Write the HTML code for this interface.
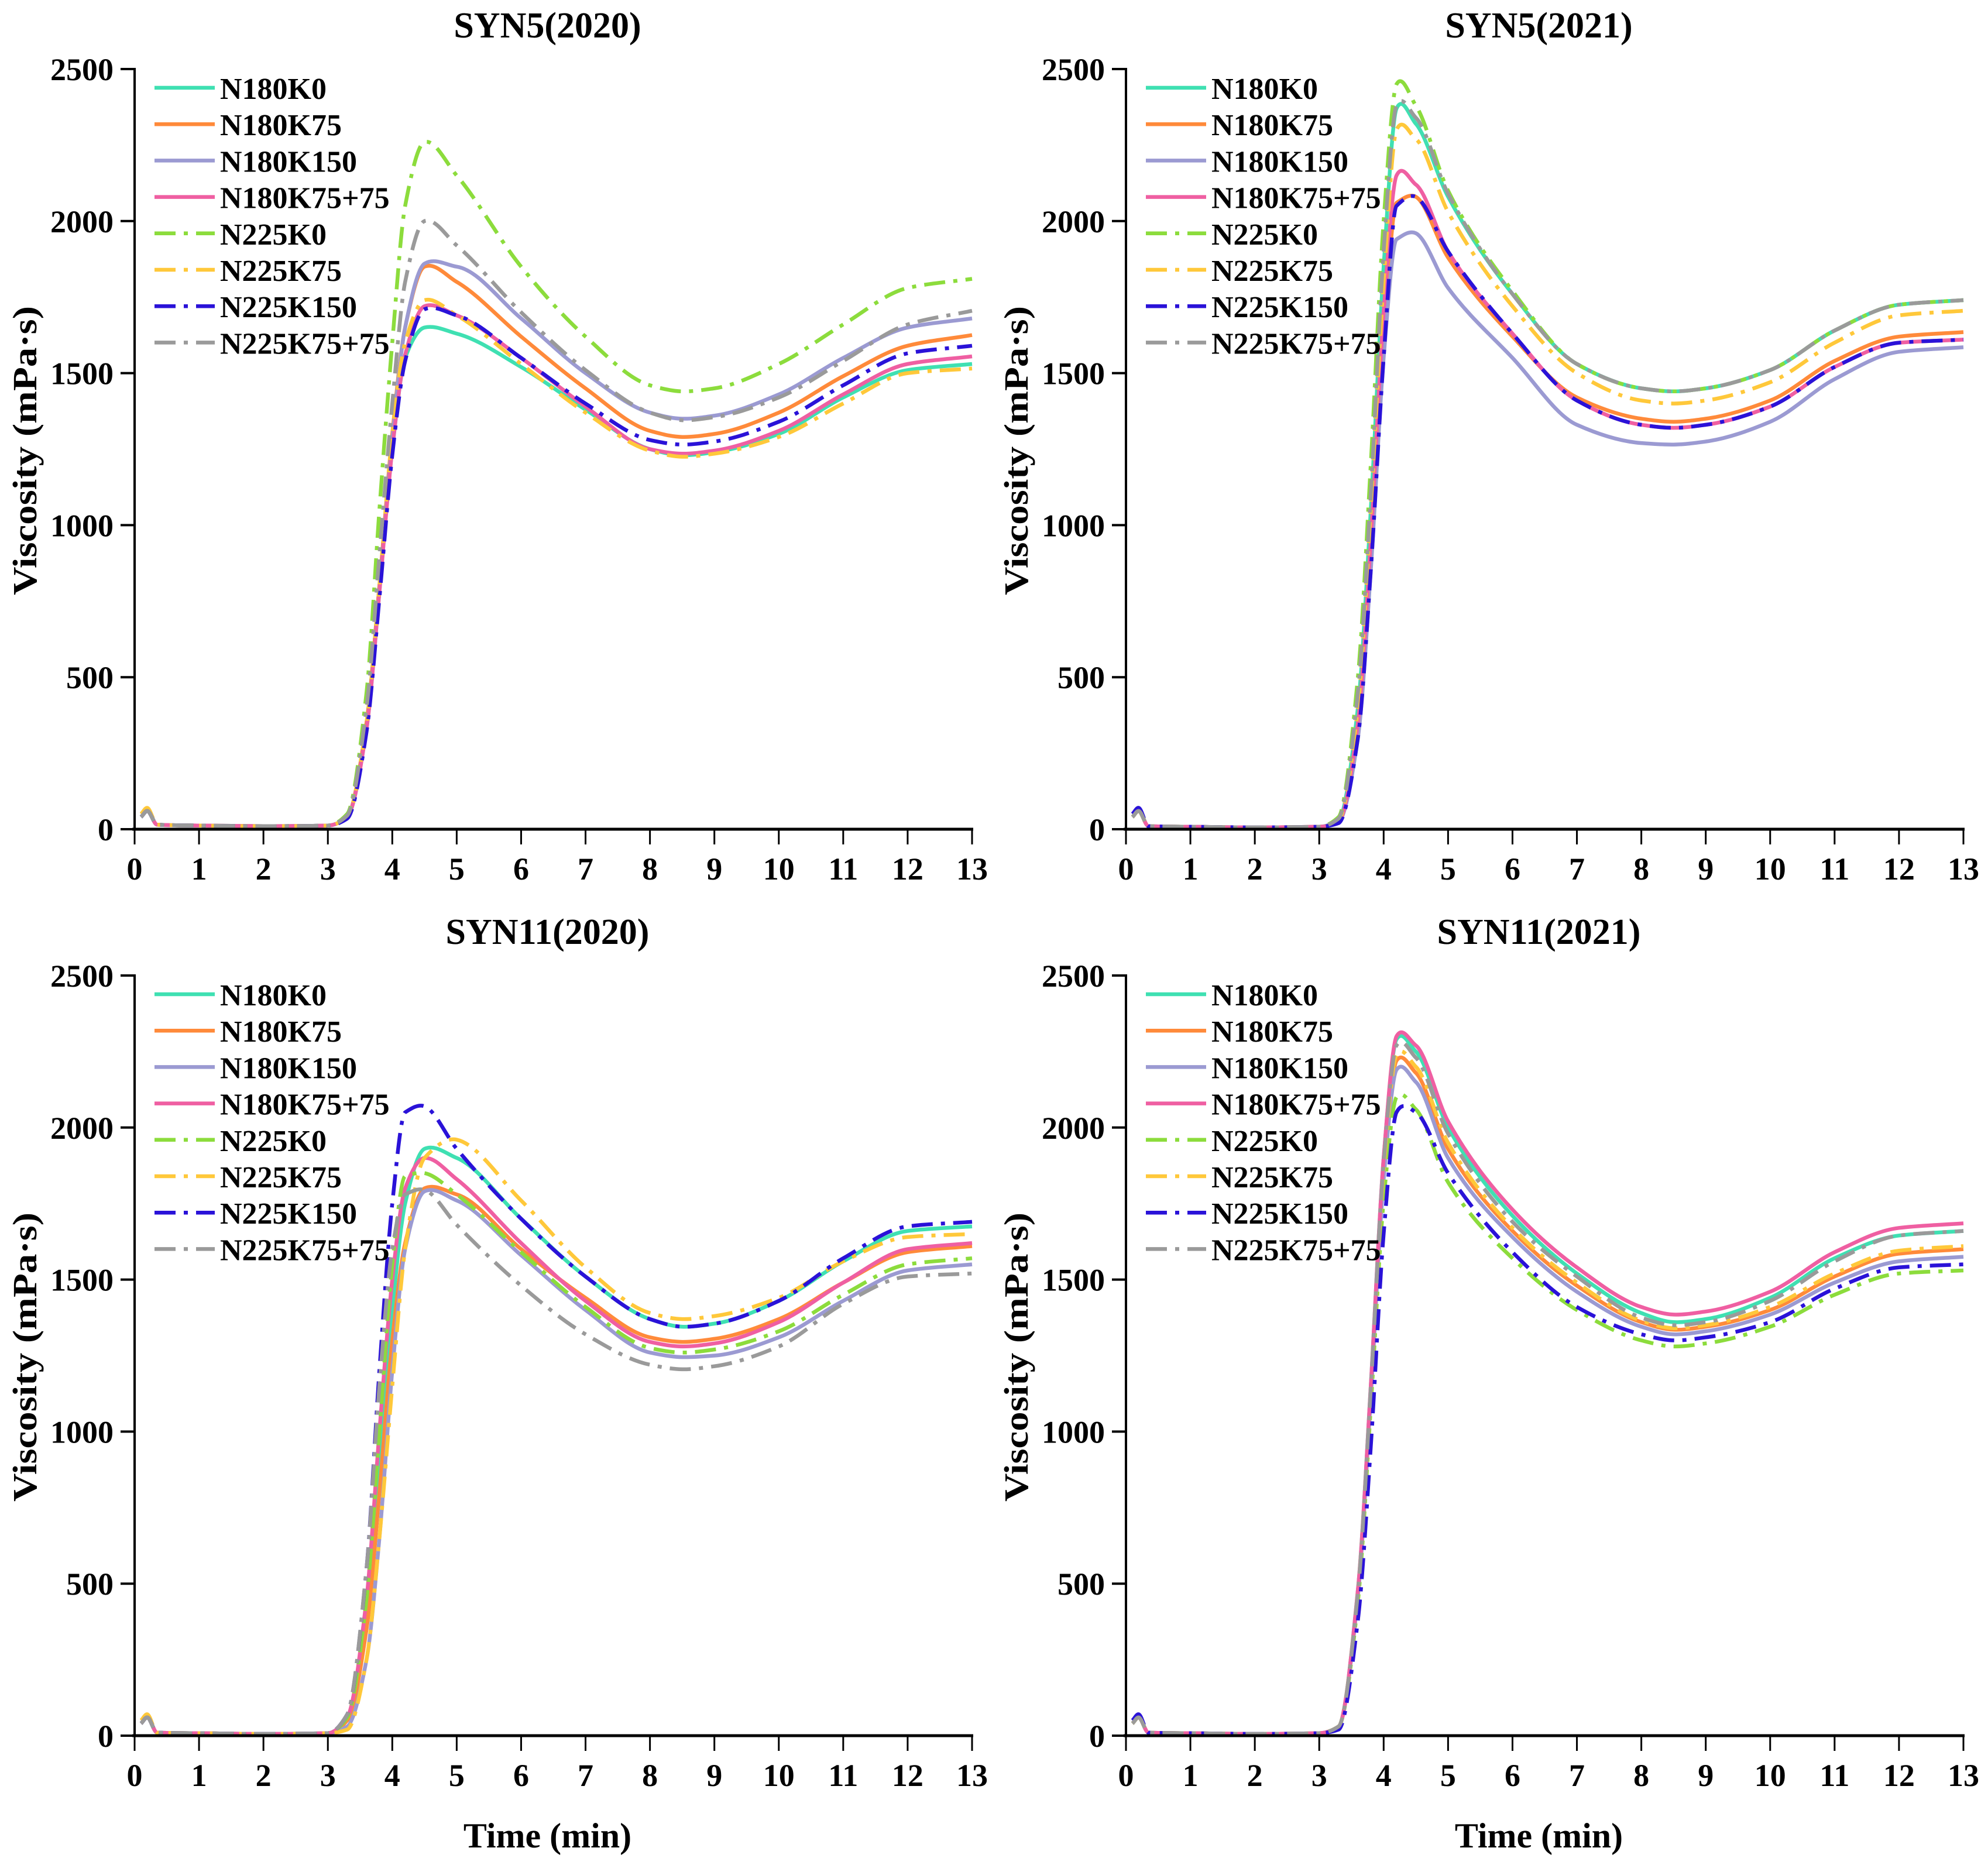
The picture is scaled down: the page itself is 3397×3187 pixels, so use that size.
<!DOCTYPE html>
<html><head><meta charset="utf-8"><style>
html,body{margin:0;padding:0;background:#fff;}
svg{display:block;}
text{font-family:"Liberation Serif",serif;font-weight:bold;fill:#000;}
</style></head>
<body>
<svg id="chart" width="3397" height="3187" viewBox="0 0 3397 3187" xmlns="http://www.w3.org/2000/svg"></svg>
<script>
const times = [0.1,0.2,0.35,1,2,3,3.3,3.6,3.8,4,4.2,4.5,5,6,7,8,8.5,9,10,11,12,13];
const seriesNames = ["N180K0","N180K75","N180K150","N180K75+75","N225K0","N225K75","N225K150","N225K75+75"];
const xTicks = [0,1,2,3,4,5,6,7,8,9,10,11,12,13];
const yTicks = [0,500,1000,1500,2000,2500];
const panelTitles = ["SYN5(2020)","SYN5(2021)","SYN11(2020)","SYN11(2021)"];

const syn5_2020 = [
 [40,60,15,12,10,12,40,350,800,1250,1550,1650,1630,1520,1380,1250,1230,1240,1300,1420,1510,1530],
 [40,60,15,12,10,12,40,350,800,1300,1650,1850,1800,1620,1450,1310,1290,1300,1370,1490,1590,1625],
 [40,60,15,12,10,12,40,330,780,1280,1650,1860,1850,1680,1500,1370,1350,1360,1430,1550,1650,1680],
 [40,60,15,12,10,12,40,330,780,1250,1560,1720,1690,1550,1390,1250,1235,1245,1310,1430,1530,1555],
 [40,60,15,12,10,12,50,450,1050,1600,2050,2260,2150,1850,1620,1460,1440,1450,1530,1660,1780,1810],
 [50,70,15,12,10,12,40,350,800,1300,1600,1740,1690,1530,1370,1245,1225,1235,1290,1400,1500,1515],
 [40,60,15,12,10,12,35,320,760,1230,1540,1710,1690,1550,1400,1280,1265,1275,1340,1460,1565,1590],
 [40,60,15,12,10,12,45,400,900,1400,1800,2000,1920,1700,1510,1370,1345,1355,1420,1540,1660,1705]
];
const syn5_2021 = [
 [40,60,10,8,6,8,30,400,1050,1850,2370,2320,2080,1760,1530,1450,1440,1450,1510,1640,1725,1740],
 [40,60,10,8,6,8,25,330,900,1600,2060,2080,1880,1620,1420,1350,1340,1350,1410,1540,1620,1635],
 [40,60,10,8,6,8,25,300,850,1550,1940,1960,1780,1550,1330,1270,1265,1275,1340,1480,1570,1585],
 [40,60,10,8,6,8,25,350,950,1700,2150,2120,1900,1630,1410,1330,1320,1330,1390,1520,1600,1610],
 [40,60,10,8,6,8,40,500,1200,2000,2450,2380,2100,1770,1530,1450,1440,1450,1510,1640,1725,1740],
 [40,60,10,8,6,8,30,400,1050,1800,2300,2270,2030,1720,1500,1410,1400,1410,1470,1600,1690,1705],
 [50,70,10,8,6,8,20,300,850,1550,2050,2080,1900,1630,1410,1330,1320,1330,1390,1520,1600,1610],
 [40,60,10,8,6,8,35,450,1100,1900,2380,2340,2090,1760,1530,1450,1440,1450,1510,1640,1725,1740]
];
const syn11_2020 = [
 [40,60,10,8,6,8,60,400,900,1400,1750,1930,1900,1700,1510,1370,1345,1355,1430,1560,1660,1675],
 [40,60,10,8,6,8,50,350,800,1300,1620,1800,1780,1600,1440,1310,1295,1305,1370,1490,1590,1610],
 [40,60,10,8,6,8,30,250,650,1200,1600,1790,1760,1580,1400,1260,1245,1250,1310,1430,1530,1550],
 [40,60,10,8,6,8,60,450,1000,1500,1800,1900,1830,1620,1430,1295,1280,1290,1360,1490,1600,1620],
 [40,60,10,8,6,8,60,450,1000,1550,1840,1850,1780,1590,1410,1275,1260,1270,1330,1450,1550,1570],
 [50,70,10,8,6,8,20,250,650,1150,1600,1900,1960,1760,1540,1390,1370,1380,1440,1560,1640,1650],
 [40,60,10,8,6,8,70,550,1200,1750,2050,2070,1930,1700,1510,1370,1345,1355,1430,1570,1675,1690],
 [40,60,10,8,6,8,70,550,1150,1600,1780,1795,1680,1480,1320,1220,1205,1215,1280,1420,1510,1520]
];
const syn11_2021 = [
 [40,60,10,8,6,8,30,480,1150,1900,2290,2250,2000,1710,1520,1390,1360,1370,1440,1570,1645,1660],
 [40,60,10,8,6,8,30,460,1120,1850,2220,2180,1930,1660,1480,1360,1335,1345,1400,1510,1585,1600],
 [40,60,10,8,6,8,30,460,1110,1830,2190,2150,1900,1640,1460,1345,1320,1330,1385,1490,1560,1575],
 [40,60,10,8,6,8,30,480,1150,1900,2300,2270,2020,1730,1540,1410,1385,1395,1460,1590,1670,1685],
 [40,60,10,8,6,8,30,440,1080,1760,2100,2060,1820,1570,1400,1300,1280,1290,1345,1450,1520,1530],
 [40,60,10,8,6,8,30,470,1130,1860,2240,2200,1950,1670,1490,1365,1340,1350,1410,1520,1595,1610],
 [50,70,10,8,6,8,20,380,950,1650,2050,2050,1850,1590,1410,1320,1300,1310,1360,1470,1540,1550],
 [40,60,10,8,6,8,30,470,1140,1880,2270,2230,1980,1690,1510,1375,1350,1360,1430,1560,1645,1660]
];
const panelData = [syn5_2020, syn5_2021, syn11_2020, syn11_2021];

const colors = ["#3fe0b2","#ff8a3a","#9b9ad2","#ef5fa2","#8cdc3c","#ffc83a","#2a12d8","#9a9a9a"];
const dashed = [false,false,false,false,true,true,true,true];
const NS = "http://www.w3.org/2000/svg";
const svg = document.getElementById("chart");
function mk(tag, attrs, parent){const e=document.createElementNS(NS,tag);for(const k in attrs)e.setAttribute(k,attrs[k]);(parent||svg).appendChild(e);return e;}

function smoothPath(pts){
  const n=pts.length; const dx=[],m=[],t=new Array(n);
  for(let i=0;i<n-1;i++){dx.push(pts[i+1][0]-pts[i][0]);m.push((pts[i+1][1]-pts[i][1])/dx[i]);}
  t[0]=m[0]; t[n-1]=m[n-2];
  for(let i=1;i<n-1;i++){
    if(m[i-1]*m[i]<=0){
      // local extremum: rounded tangent from neighbours
      t[i]=(pts[i+1][1]-pts[i-1][1])/(pts[i+1][0]-pts[i-1][0])*0.5;
    } else { const w1=2*dx[i]+dx[i-1], w2=dx[i]+2*dx[i-1]; t[i]=(w1+w2)/(w1/m[i-1]+w2/m[i]); }
  }
  let d="M"+pts[0][0].toFixed(1)+","+pts[0][1].toFixed(1);
  for(let i=0;i<n-1;i++){const h=dx[i]/3;
    d+=" C"+(pts[i][0]+h).toFixed(1)+","+(pts[i][1]+h*t[i]).toFixed(1)+" "+(pts[i+1][0]-h).toFixed(1)+","+(pts[i+1][1]-h*t[i+1]).toFixed(1)+" "+pts[i+1][0].toFixed(1)+","+pts[i+1][1].toFixed(1);}
  return d;
}

const layouts = [{ox:0,oy:0},{ox:1694,oy:0},{ox:0,oy:1549},{ox:1694,oy:1549}];
layouts.forEach((L,p)=>{
  const x0=230+L.ox, x1=1661+L.ox, yTop=118+L.oy, yBot=1417+L.oy;
  const xs=v=>x0+(v/13)*(x1-x0);
  const ys=v=>yBot-(v/2500)*(yBot-yTop);
  const g=mk("g",{});
  
  
  const title=mk("text",{x:(x0+x1)/2-10,y:64+L.oy,"font-size":62,"text-anchor":"middle"},g);
  title.textContent=panelTitles[p];
  
  
  const sg=mk("g",{},g);
  panelData[p].forEach((vals,s)=>{
    const pts=times.map((t,i)=>[xs(t),ys(vals[i])]);
    const path=mk("path",{d:smoothPath(pts),fill:"none",stroke:colors[s],"stroke-width":6.5,"stroke-linejoin":"round"},sg);
    if(dashed[s]) path.setAttribute("stroke-dasharray","36 14 7 14");
    
    
  });
  const ya=mk("line",{x1:x0,y1:yTop-2,x2:x0,y2:yBot,stroke:"#000","stroke-width":4},g);
  
  
  const xa=mk("line",{x1:x0-4,y1:yBot,x2:x1+2,y2:yBot,stroke:"#000","stroke-width":5},g);
  
  
  yTicks.forEach(v=>{
    const y=ys(v);
    mk("line",{x1:x0-24,y1:y,x2:x0,y2:y,stroke:"#000","stroke-width":4},g);
    const tl=mk("text",{x:x0-36,y:y+19,"font-size":54,"text-anchor":"end"},g);
    tl.textContent=v;
    
    
  });
  xTicks.forEach(v=>{
    const x=xs(v);
    mk("line",{x1:x,y1:yBot,x2:x,y2:yBot+26,stroke:"#000","stroke-width":3},g);
    const tl=mk("text",{x:x,y:yBot+86,"font-size":54,"text-anchor":"middle"},g);
    tl.textContent=v;
    
    
  });
  const yl=mk("text",{transform:"translate("+(62+L.ox)+","+(770+L.oy)+") rotate(-90)","font-size":58,"text-anchor":"middle",textLength:494,lengthAdjust:"spacingAndGlyphs"},g);
  yl.textContent="Viscosity (mPa·s)";
  
  
  if(p>=2){
    const xl=mk("text",{x:(x0+x1)/2-10,y:3157,"font-size":60,"text-anchor":"middle"},g);
    xl.textContent="Time (min)";
    
    
  }
  const lg=mk("g",{},g);
  
  
  seriesNames.forEach((nm,s)=>{
    const y=150+L.oy+s*62.2;
    const e=mk("g",{},lg);
    
    
    const ln=mk("line",{x1:264+L.ox,y1:y,x2:367+L.ox,y2:y,stroke:colors[s],"stroke-width":6.5},e);
    if(dashed[s]) ln.setAttribute("stroke-dasharray","36 14 7 14");
    const tx=mk("text",{x:376+L.ox,y:y+19,"font-size":52},e);
    tx.textContent=nm;
  });
});
</script>
</body></html>
